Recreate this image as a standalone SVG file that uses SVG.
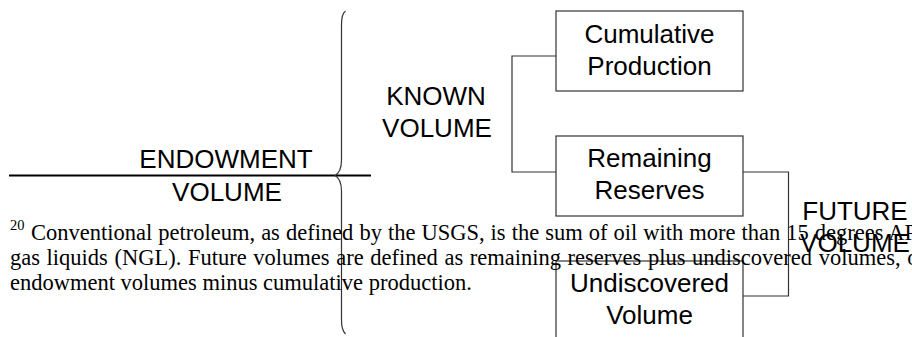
<svg xmlns="http://www.w3.org/2000/svg" width="912" height="337" viewBox="0 0 912 337">
<style>
.lbl{font-family:"Liberation Sans",Arial,sans-serif;font-size:26px;fill:#000;text-anchor:middle}
.box{fill:none;stroke:#333;stroke-width:1.2}
.con{fill:none;stroke:#333;stroke-width:1.2}
.fn{font-family:"Liberation Serif","Times New Roman",serif;font-size:22.5px;fill:#000}
.sup{font-family:"Liberation Serif","Times New Roman",serif;font-size:14.5px;fill:#000}
</style>
<rect width="912" height="337" fill="#fff"/>
<g id="connectors">
<line x1="9" y1="175.5" x2="371" y2="175.5" stroke="#000" stroke-width="1.8"/>
<path class="con" stroke="#000" stroke-width="1" d="M345.5,11 C342.5,13 341.5,18 341.5,25 L341.5,160 C341.5,168 339.5,173 335,175.5 C339.5,178 341.5,183 341.5,191 L341.5,320 C341.5,327 342.5,331 345.5,334"/>
<path class="con" d="M556,56 H512 V172 H556"/>
<path class="con" d="M743,172 H788.5 V296 H743"/>
</g>
<g id="endowment">
<text class="lbl" x="226" y="168">ENDOWMENT</text>
<text class="lbl" x="227" y="200.5">VOLUME</text>
</g>
<g id="known">
<text class="lbl" x="436" y="105">KNOWN</text>
<text class="lbl" x="437" y="136.5">VOLUME</text>
</g>
<g id="cumulative">
<rect class="box" x="556" y="11" width="187" height="80"/>
<text class="lbl" x="649.5" y="43">Cumulative</text>
<text class="lbl" x="649.5" y="75">Production</text>
</g>
<g id="remaining">
<rect class="box" x="556" y="136" width="187" height="80"/>
<text class="lbl" x="649.5" y="166.5">Remaining</text>
<text class="lbl" x="649.5" y="199">Reserves</text>
</g>
<g id="undiscovered">
<rect class="box" x="556" y="261" width="187" height="80"/>
<text class="lbl" x="649.5" y="292">Undiscovered</text>
<text class="lbl" x="649.5" y="324">Volume</text>
</g>
<g id="future">
<text class="lbl" x="855" y="220">FUTURE</text>
<text class="lbl" x="855" y="252">VOLUME</text>
</g>
<g id="footnote">
<text class="sup" x="10" y="230">20</text>
<text class="fn" x="31" y="240" word-spacing="0.4">Conventional petroleum, as defined by the USGS, is the sum of oil with more than 15 degrees AP</text>
<text class="fn" x="10" y="265" word-spacing="1">gas liquids (NGL). Future volumes are defined as remaining reserves plus undiscovered volumes, o</text>
<text class="fn" x="10" y="290">endowment volumes minus cumulative production.</text>
</g>
</svg>
